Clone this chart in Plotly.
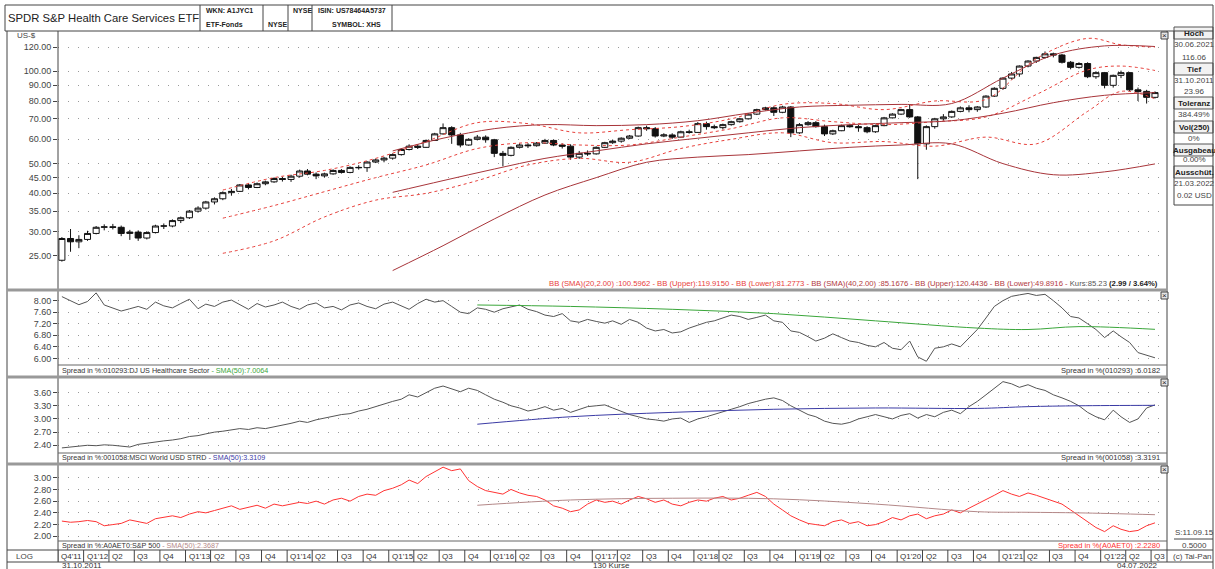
import pandas as pd
import plotly.graph_objects as go

W, H = 1215, 569
FONT = "Liberation Sans, Arial, sans-serif"

# ---- data -------------------------------------------------------------
months = pd.date_range("2011-10-01", "2022-07-01", freq="MS") + pd.Timedelta(days=14)

opens = [24.2, 28.5, 27.8,
         28.3, 29.6, 31.0, 31.1, 31.0, 29.6, 29.9, 28.6, 29.8, 31.3, 31.3, 32.6,
         33.3, 35.0, 35.8, 37.5, 38.4, 40.2, 40.6, 42.6, 41.8, 43.0, 43.6, 44.7,
         44.4, 45.5, 47.3, 46.2, 45.6, 46.3, 47.5, 46.8, 48.6, 48.5, 50.6, 51.4,
         52.1, 53.5, 55.6, 57.0, 56.5, 59.5, 62.5, 65.5, 62.0, 57.5, 60.0, 61.0,
         59.8, 54.0, 53.2, 56.5, 57.5, 57.2, 58.3, 59.5, 57.5, 57.0, 52.5, 54.0,
         53.8, 56.5, 58.5, 59.2, 60.5, 61.5, 65.5, 65.0, 61.5, 62.0, 61.0, 63.5,
         63.2, 67.5, 66.0, 65.5, 67.0, 68.5, 70.0, 72.5, 75.0, 76.0, 73.5, 76.5,
         63.0, 67.0, 68.0, 66.0, 62.5, 64.0, 66.5, 66.0, 65.5, 63.5, 66.5, 70.5,
         72.5, 75.0, 71.0, 58.0, 66.0, 70.0, 71.0, 74.0, 76.0, 75.0, 76.5, 83.0,
         88.0, 95.0, 98.0, 104.0, 108.0, 111.0, 114.0, 113.0, 107.0, 103.0, 106.0, 96.0,
         99.0, 90.0, 97.0, 99.0, 87.0, 86.0, 82.24]
highs = [28.8, 30.6, 29.2,
         30.2, 31.3, 31.7, 31.8, 31.4, 30.4, 30.3, 30.1, 31.6, 31.9, 32.9, 33.6,
         35.3, 36.3, 37.8, 38.8, 40.6, 41.3, 42.9, 43.2, 43.4, 44.0, 45.1, 45.3,
         46.0, 47.8, 48.0, 46.8, 46.7, 47.9, 48.0, 49.0, 49.4, 50.9, 51.9, 52.6,
         54.0, 56.0, 57.8, 57.9, 59.9, 63.0, 67.6, 66.2, 63.0, 60.5, 62.0, 61.8,
         60.2, 55.0, 56.9, 58.2, 58.3, 58.8, 60.2, 60.0, 58.2, 57.8, 55.0, 55.2,
         56.9, 58.9, 59.9, 60.9, 62.0, 66.0, 66.5, 65.8, 62.8, 62.8, 64.0, 64.5,
         68.3, 68.5, 67.0, 67.5, 69.0, 70.5, 72.9, 75.5, 76.6, 76.8, 77.2, 77.0,
         67.8, 68.8, 68.8, 67.0, 64.5, 67.0, 67.5, 66.8, 66.2, 67.0, 71.0, 73.0,
         75.5, 78.0, 71.5, 66.6, 70.5, 72.5, 74.5, 76.8, 77.5, 77.0, 83.5, 88.7,
         95.5, 99.5, 104.5, 108.6, 111.5, 116.06, 115.0, 114.0, 108.0, 107.0, 107.0, 100.0,
         99.5, 97.5, 100.5, 99.5, 88.5, 87.0, 86.0]
lows = [23.96, 25.8, 26.5,
        28.0, 29.4, 30.3, 30.5, 29.0, 28.2, 28.0, 28.3, 29.6, 30.6, 31.0, 32.0,
        33.0, 34.6, 35.4, 36.8, 38.0, 39.3, 40.4, 41.2, 41.6, 42.5, 43.3, 43.7,
        43.6, 45.0, 45.8, 44.5, 45.0, 46.0, 46.4, 46.5, 47.8, 47.0, 50.2, 50.5,
        51.5, 53.1, 55.2, 55.8, 56.3, 59.3, 62.2, 58.0, 56.5, 57.2, 59.5, 58.5,
        52.5, 49.0, 52.8, 56.0, 56.2, 56.8, 58.0, 57.0, 56.0, 51.5, 51.8, 53.0,
        53.5, 56.2, 58.0, 58.5, 60.1, 61.2, 64.0, 60.8, 61.0, 60.2, 60.8, 62.6,
        63.0, 64.5, 64.8, 64.6, 66.5, 68.0, 69.6, 72.0, 74.5, 71.5, 73.0, 61.0,
        62.5, 66.5, 65.5, 61.5, 62.0, 63.8, 65.5, 63.5, 62.8, 63.0, 66.2, 70.2,
        72.0, 70.5, 44.5, 55.5, 65.0, 69.0, 70.5, 73.5, 73.5, 73.8, 76.0, 82.5,
        87.0, 94.0, 96.0, 103.0, 106.5, 110.0, 111.0, 106.0, 101.5, 102.0, 95.0, 94.5,
        88.0, 88.5, 95.0, 86.0, 80.0, 78.5, 81.5]
closes = [28.5, 27.8, 28.3,
          29.6, 31.0, 31.1, 31.0, 29.6, 29.9, 28.6, 29.8, 31.3, 31.3, 32.6, 33.3,
          35.0, 35.8, 37.5, 38.4, 40.2, 40.6, 42.6, 41.8, 43.0, 43.6, 44.7, 44.4,
          45.5, 47.3, 46.2, 45.6, 46.3, 47.5, 46.8, 48.6, 48.5, 50.6, 51.4, 52.1,
          53.5, 55.6, 57.0, 56.5, 59.5, 62.5, 65.5, 62.0, 57.5, 60.0, 61.0, 59.8,
          54.0, 53.2, 56.5, 57.5, 57.2, 58.3, 59.5, 57.5, 57.0, 52.5, 54.0, 53.8,
          56.5, 58.5, 59.2, 60.5, 61.5, 65.5, 65.0, 61.5, 62.0, 61.0, 63.5, 63.2,
          67.5, 66.0, 65.5, 67.0, 68.5, 70.0, 72.5, 75.0, 76.0, 73.5, 76.5, 63.0,
          67.0, 68.0, 66.0, 62.5, 64.0, 66.5, 66.0, 65.5, 63.5, 66.5, 70.5, 72.5,
          75.0, 71.0, 58.0, 66.0, 70.0, 71.0, 74.0, 76.0, 75.0, 76.5, 83.0, 88.0,
          95.0, 98.0, 104.0, 108.0, 111.0, 114.0, 113.0, 107.0, 103.0, 106.0, 96.0, 99.0,
          90.0, 97.0, 99.0, 87.0, 86.0, 82.24, 85.23]

# Bollinger bands (month index -> value)
bb20_idx = [19, 25, 31, 37, 43, 49, 55, 61, 67, 73, 79, 85, 91, 97, 103, 109, 115, 121, 125, 129]
bb20_mid = [33.2, 36.5, 40.5, 45.0, 49.5, 56.0, 58.5, 57.5, 57.5, 61.0, 65.0, 70.5, 68.5, 67.0, 68.5, 71.0, 84.0, 101.0, 104.0, 100.6]
bb20_up = [41.0, 45.0, 47.5, 52.0, 59.0, 68.0, 67.5, 63.0, 64.5, 66.0, 70.0, 78.0, 78.5, 75.0, 80.0, 81.0, 110.0, 128.0, 122.0, 119.9]
bb20_low = [25.5, 28.0, 33.5, 38.0, 40.0, 44.0, 49.5, 52.0, 50.5, 56.0, 60.0, 63.0, 58.5, 59.0, 57.0, 61.0, 58.0, 74.0, 86.0, 81.3]

bb40_idx = [39, 45, 51, 57, 63, 69, 75, 81, 87, 93, 99, 105, 111, 117, 123, 129]
bb40_mid = [40.3, 44.0, 48.0, 52.0, 55.0, 58.0, 60.5, 63.0, 65.5, 67.0, 68.0, 69.0, 73.0, 79.0, 83.5, 85.17]
bb40_up = [55.0, 60.5, 65.0, 67.0, 66.5, 67.0, 69.0, 73.0, 76.5, 77.5, 78.0, 78.5, 95.0, 113.0, 121.0, 120.44]
bb40_low = [22.4, 27.0, 33.0, 39.5, 45.0, 50.5, 52.5, 53.5, 55.0, 56.5, 57.5, 58.0, 50.0, 46.0, 47.0, 49.89]

spread_dj = [8.14, 8.00, 7.86,
             7.97, 8.27, 7.85, 7.74, 7.64, 7.72, 7.80, 7.70, 7.95, 7.82, 7.75, 7.90,
             8.05, 7.72, 7.88, 7.80, 7.95, 8.02, 7.85, 7.70, 7.90, 7.78, 7.85, 7.95,
             7.80, 7.70, 7.85, 7.92, 7.75, 7.80, 7.68, 7.85, 7.92, 7.80, 7.72, 7.88,
             7.95, 7.82, 7.70, 7.90, 8.05, 7.95, 8.00, 7.80, 7.60, 7.55, 7.75, 7.70,
             7.60, 7.72, 7.78, 7.85, 7.70, 7.62, 7.50, 7.45, 7.55, 7.30, 7.25, 7.35,
             7.28, 7.22, 7.30, 7.18, 7.35, 7.25, 7.05, 6.95, 7.00, 6.88, 6.92, 7.05,
             7.15, 7.25, 7.30, 7.40, 7.50, 7.45, 7.35, 7.42, 7.50, 7.30, 7.25, 6.95,
             6.90, 6.75, 6.60, 6.70, 6.85, 6.72, 6.60, 6.55, 6.45, 6.40, 6.55, 6.35,
             6.30, 6.60, 6.05, 5.90, 6.35, 6.40, 6.50, 6.40, 6.70, 7.00, 7.40, 7.80,
             8.00, 8.15, 8.20, 8.25, 8.18, 8.22, 8.00, 7.75, 7.45, 7.40, 7.20, 7.00,
             6.72, 6.95, 6.75, 6.55, 6.20, 6.10, 6.02]
spread_msci = [2.34, 2.36, 2.38,
               2.40, 2.39, 2.41, 2.40, 2.38, 2.36, 2.42, 2.45, 2.48, 2.50, 2.52, 2.55,
               2.60, 2.62, 2.66, 2.70, 2.72, 2.75, 2.78, 2.76, 2.80, 2.78, 2.82, 2.85,
               2.90, 2.95, 2.92, 2.98, 3.02, 3.05, 3.10, 3.12, 3.18, 3.22, 3.28, 3.35,
               3.40, 3.45, 3.55, 3.50, 3.60, 3.70, 3.75, 3.68, 3.62, 3.70, 3.65, 3.55,
               3.45, 3.38, 3.30, 3.25, 3.18, 3.22, 3.28, 3.20, 3.24, 3.15, 3.22, 3.28,
               3.30, 3.32, 3.25, 3.18, 3.10, 3.05, 3.00, 2.98, 2.95, 3.00, 3.02, 2.92,
               3.00, 3.05, 3.10, 3.15, 3.22, 3.28, 3.35, 3.40, 3.45, 3.48, 3.42, 3.30,
               3.20, 3.10, 3.05, 2.95, 2.90, 2.88, 2.92, 3.00, 3.05, 3.10, 3.05, 3.00,
               3.08, 3.12, 3.02, 3.10, 3.05, 3.15, 3.20, 3.12, 3.28, 3.40, 3.55, 3.70,
               3.85, 3.80, 3.72, 3.78, 3.70, 3.65, 3.55, 3.48, 3.40, 3.30, 3.15, 3.05,
               2.98, 3.20, 3.05, 2.92, 3.00, 3.25, 3.32]
spread_sp = [2.26, 2.24, 2.25,
             2.27, 2.25, 2.18, 2.20, 2.22, 2.28, 2.25, 2.22, 2.30, 2.33, 2.35, 2.32,
             2.38, 2.42, 2.40, 2.44, 2.48, 2.52, 2.46, 2.50, 2.53, 2.48, 2.55, 2.52,
             2.55, 2.58, 2.56, 2.60, 2.55, 2.62, 2.65, 2.60, 2.68, 2.72, 2.70, 2.78,
             2.82, 2.88, 2.96, 2.90, 3.02, 3.10, 3.18, 3.12, 3.15, 2.95, 2.85, 2.78,
             2.75, 2.72, 2.80, 2.74, 2.70, 2.68, 2.62, 2.52, 2.48, 2.42, 2.45, 2.55,
             2.62, 2.58, 2.60, 2.55, 2.62, 2.68, 2.64, 2.58, 2.62, 2.55, 2.52, 2.58,
             2.62, 2.60, 2.65, 2.68, 2.62, 2.65, 2.70, 2.75, 2.68, 2.55, 2.45, 2.35,
             2.28, 2.22, 2.20, 2.18, 2.25, 2.28, 2.22, 2.25, 2.18, 2.20, 2.25, 2.32,
             2.28, 2.35, 2.38, 2.30, 2.35, 2.38, 2.45, 2.40, 2.48, 2.55, 2.62, 2.70,
             2.78, 2.72, 2.68, 2.74, 2.70, 2.65, 2.60, 2.55, 2.45, 2.35, 2.25, 2.15,
             2.08, 2.18, 2.12, 2.08, 2.10, 2.18, 2.23]

sma_idx = [49, 60, 72, 84, 96, 108, 114, 120, 129]
sma_dj = [7.85, 7.80, 7.70, 7.55, 7.30, 7.05, 7.00, 7.10, 7.006]
sma_msci = [2.88, 3.05, 3.15, 3.22, 3.25, 3.24, 3.28, 3.30, 3.31]
sma_sp = [2.53, 2.62, 2.65, 2.64, 2.55, 2.42, 2.41, 2.40, 2.369]

price_ticks = [25, 30, 35, 40, 45, 50, 60, 70, 80, 90, 100, 120]
dj_ticks = [6.0, 6.4, 6.8, 7.2, 7.6, 8.0]
msci_ticks = [2.4, 2.7, 3.0, 3.3, 3.6]
sp_ticks = [2.0, 2.2, 2.4, 2.6, 2.8, 3.0]

info_rows = [("Hoch", True), ("30.06.2021", False), ("116.06", False),
             ("Tief", True), ("31.10.2011", False), ("23.96", False),
             ("Toleranz", True), ("384.49%", False),
             ("Vol(250)", True), ("0%", False),
             ("Ausgabeau", True), ("0.00%", False),
             ("Ausschüt.", True), ("21.03.2022", False), ("0.02 USD", False)]

# ---- helpers ------------------------------------------------------------


def fx(x):
    return x / W


def fy(y):
    return 1 - y / H


def line(x0, y0, x1, y1, color="#444", width=1):
    return dict(type="line", xref="paper", yref="paper", x0=fx(x0), y0=fy(y0),
                x1=fx(x1), y1=fy(y1), line=dict(color=color, width=width))


def text(x, y, s, size=8, color="#333", xanchor="left", bold=False):
    if bold:
        s = "<b>" + s + "</b>"
    return dict(xref="paper", yref="paper", x=fx(x), y=fy(y), text=s, showarrow=False,
                xanchor=xanchor, yanchor="middle", font=dict(size=size, color=color, family=FONT))


def sub(idx):
    return [months[i] for i in idx]


# ---- figure -------------------------------------------------------------
fig = go.Figure()

fig.add_trace(go.Candlestick(
    x=months, open=opens, high=highs, low=lows, close=closes,
    increasing=dict(line=dict(color="#111", width=1), fillcolor="white"),
    decreasing=dict(line=dict(color="#111", width=1), fillcolor="#111"),
    whiskerwidth=0, hoverinfo="skip", yaxis="y"))

dot_red = dict(color="#e8413c", width=1, dash="dot")
solid_red = dict(color="#a8353a", width=1)
for vals in (bb20_up, bb20_mid, bb20_low):
    fig.add_trace(go.Scatter(x=sub(bb20_idx), y=vals, mode="lines", line=dot_red,
                             line_shape="spline", yaxis="y"))
for vals in (bb40_up, bb40_mid, bb40_low):
    fig.add_trace(go.Scatter(x=sub(bb40_idx), y=vals, mode="lines", line=solid_red,
                             line_shape="spline", yaxis="y"))

fig.add_trace(go.Scatter(x=months, y=spread_dj, mode="lines",
                         line=dict(color="#555", width=1), yaxis="y2"))
fig.add_trace(go.Scatter(x=sub(sma_idx), y=sma_dj, mode="lines", line_shape="spline",
                         line=dict(color="#3aa63a", width=1), yaxis="y2"))
fig.add_trace(go.Scatter(x=months, y=spread_msci, mode="lines",
                         line=dict(color="#555", width=1), yaxis="y3"))
fig.add_trace(go.Scatter(x=sub(sma_idx), y=sma_msci, mode="lines", line_shape="spline",
                         line=dict(color="#3b3ba5", width=1), yaxis="y3"))
fig.add_trace(go.Scatter(x=months, y=spread_sp, mode="lines",
                         line=dict(color="#ff3333", width=1), yaxis="y4"))
fig.add_trace(go.Scatter(x=sub(sma_idx), y=sma_sp, mode="lines", line_shape="spline",
                         line=dict(color="#b48888", width=1), yaxis="y4"))

yax = dict(showline=False, ticks="outside", ticklen=4, tickcolor="#444",
           tickfont=dict(size=9, color="#444", family=FONT), showgrid=True,
           gridcolor="#9a9a9a", griddash="1px,9px", gridwidth=1, zeroline=False,
           anchor="x", fixedrange=True)
minor_grid = dict(showgrid=True, gridcolor="#9a9a9a", griddash="1px,9px", ticks="")

fig.update_layout(
    width=W, height=H, autosize=False, margin=dict(l=0, r=0, t=0, b=0),
    paper_bgcolor="white", plot_bgcolor="white", showlegend=False,
    boxgap=0.12, boxgroupgap=0.12,
    xaxis=dict(domain=[fx(58), fx(1165)], range=["2011-10-01", "2022-08-20"],
               rangeslider=dict(visible=False), showticklabels=False, showgrid=False,
               zeroline=False, showline=False, anchor="y4", fixedrange=True),
    yaxis=dict(yax, domain=[fy(290), fy(32)], type="log", range=[1.2869, 2.1281],
               tickvals=price_ticks, ticktext=["%.2f" % v for v in price_ticks]),
    yaxis2=dict(yax, domain=[fy(365), fy(292)], range=[5.77, 8.30],
                tickvals=dj_ticks, ticktext=["%.2f" % v for v in dj_ticks]),
    yaxis3=dict(yax, domain=[fy(453), fy(379)], range=[2.224, 3.91],
                tickvals=msci_ticks, ticktext=["%.2f" % v for v in msci_ticks],
                minor=dict(minor_grid, tickvals=[3.9])),
    yaxis4=dict(yax, domain=[fy(541), fy(465)], range=[1.92, 3.217],
                tickvals=sp_ticks, ticktext=["%.2f" % v for v in sp_ticks],
                minor=dict(minor_grid, tickvals=[3.2])),
)

shapes = []
annotations = []

# header row
shapes.append(dict(type="rect", xref="paper", yref="paper", x0=fx(5), y0=fy(31), x1=fx(1213),
                   y1=fy(5), line=dict(color="#444", width=1)))
for xv in (200, 263, 288, 312, 392):
    shapes.append(line(xv, 5, xv, 31))
annotations.append(text(6, 18, "SPDR S&P Health Care Services ETF", size=11.3, color="#222"))
annotations.append(text(204, 11, "WKN: A1JYC1", size=7, color="#222", bold=True))
annotations.append(text(204, 24, "ETF-Fonds", size=7, color="#222", bold=True))
annotations.append(text(266, 24, "NYSE", size=7, color="#222", bold=True))
annotations.append(text(291, 11, "NYSE", size=7, color="#222", bold=True))
annotations.append(text(316, 11, "ISIN: US78464A5737", size=7, color="#222", bold=True))
annotations.append(text(330, 24, "SYMBOL: XHS", size=7, color="#222", bold=True))

# frame of chart area
shapes.append(line(7, 31, 7, 569))
shapes.append(line(58, 31, 58, 562))
shapes.append(line(1167, 31, 1167, 562))
shapes.append(line(1213, 31, 1213, 569))
for yv in (290, 377, 464):
    shapes.append(line(7, yv, 1167, yv, color="#999", width=3))
shapes.append(line(7, 550, 1213, 550))
shapes.append(line(7, 562, 1213, 562))
for yv in (365, 453, 541):
    shapes.append(line(58, yv, 1167, yv, color="#666"))

# little close boxes
for yv in (32, 292, 379, 466):
    shapes.append(dict(type="rect", xref="paper", yref="paper", x0=fx(1161), x1=fx(1168),
                       y0=fy(yv + 7), y1=fy(yv), line=dict(color="#444", width=1),
                       fillcolor="#e6e6e6"))
    annotations.append(text(1164.5, yv + 3.5, "×", size=8, color="#222", xanchor="center"))

annotations.append(text(38, 36, "US-$", size=8, color="#444", xanchor="right"))

# bollinger legend
red20 = "#e8413c"
red40 = "#b23a40"
legend = ("<span style='color:%s'>BB (SMA)(20,2.00) :100.5962 - BB (Upper):119.9150 - "
          "BB (Lower):81.2773 - </span><span style='color:%s'>BB (SMA)(40,2.00) :85.1676 - "
          "BB (Upper):120.4436 - BB (Lower):49.8916 - </span><span style='color:#555'>"
          "Kurs:85.23 </span><b>(2.99 / 3.64%%)</b>") % (red20, red40)
annotations.append(text(1160, 283, legend, size=7.7, color="#222", xanchor="right"))

# footers of the spread panels
annotations.append(text(60, 370, "Spread in %:010293:DJ US Healthcare Sector "
                        "<span style='color:#3aa63a'>- SMA(50):7.0064</span>", size=7.2, color="#333"))
annotations.append(text(1162, 370, "Spread in %(010293) :6.0182", size=7.6, color="#333", xanchor="right"))
annotations.append(text(60, 457, "Spread in %:001058:MSCI World USD STRD "
                        "<span style='color:#3b3ba5'>- SMA(50):3.3109</span>", size=7.2, color="#333"))
annotations.append(text(1162, 457, "Spread in %(001058) :3.3191", size=7.6, color="#333", xanchor="right"))
annotations.append(text(60, 545, "Spread in %:A0AET0:S&P 500 "
                        "<span style='color:#b48888'>- SMA(50):2.3687</span>", size=7.2, color="#333"))
annotations.append(text(1162, 545, "Spread in %(A0AET0) :2.2280", size=7.6, color="#ff3333", xanchor="right"))

# quarter axis
annotations.append(text(24, 556, "LOG", size=8, color="#444", xanchor="center"))
quarters = pd.date_range("2011-10-01", "2022-07-01", freq="QS")
for q in quarters:
    qn = (q.month - 1) // 3 + 1
    lab = "Q%d'%02d" % (qn, q.year % 100) if qn == 1 or q == quarters[0] else "Q%d" % qn
    shapes.append(dict(type="line", xref="x", yref="paper", x0=q, x1=q, y0=fy(562), y1=fy(550),
                       line=dict(color="#444", width=1)))
    annotations.append(dict(xref="x", yref="paper", x=q, y=fy(556), text=lab, showarrow=False,
                            xanchor="left", xshift=1, yanchor="middle",
                            font=dict(size=8, color="#333", family=FONT)))
annotations.append(text(60, 565, "31.10.2011", size=8, color="#333"))
annotations.append(text(612, 565, "130 Kurse", size=8, color="#333", xanchor="center"))
annotations.append(text(1160, 565, "04.07.2022", size=8, color="#333", xanchor="right"))

# info column on the right
ypos = [33, 45, 57, 69, 81, 92, 103, 115, 127, 138, 150, 160, 172, 183, 195]
for (lab, hdr), yv in zip(info_rows, ypos):
    if hdr:
        shapes.append(dict(type="rect", xref="paper", yref="paper", x0=fx(1174), x1=fx(1213),
                           y0=fy(yv + 6), y1=fy(yv - 6), line=dict(color="#555", width=1),
                           fillcolor="#f2f2f2", layer="below"))
    annotations.append(text(1194, yv, lab, size=8, color="#222" if hdr else "#444",
                            xanchor="center", bold=hdr))
shapes.append(line(1174, 31, 1174, 205))
shapes.append(line(1174, 205, 1213, 205))
shapes.append(line(1174, 539, 1213, 539))
annotations.append(text(1194, 532, "S:11.09.15", size=8, color="#444", xanchor="center"))
annotations.append(text(1194, 545, "0.5000", size=8, color="#444", xanchor="center"))
annotations.append(text(1192, 556, "(c) Tai-Pan", size=8, color="#444", xanchor="center"))

fig.update_layout(shapes=shapes, annotations=annotations)
fig.write_html("out.html", config={"displayModeBar": False},
               post_script="document.body.style.margin='0';")
